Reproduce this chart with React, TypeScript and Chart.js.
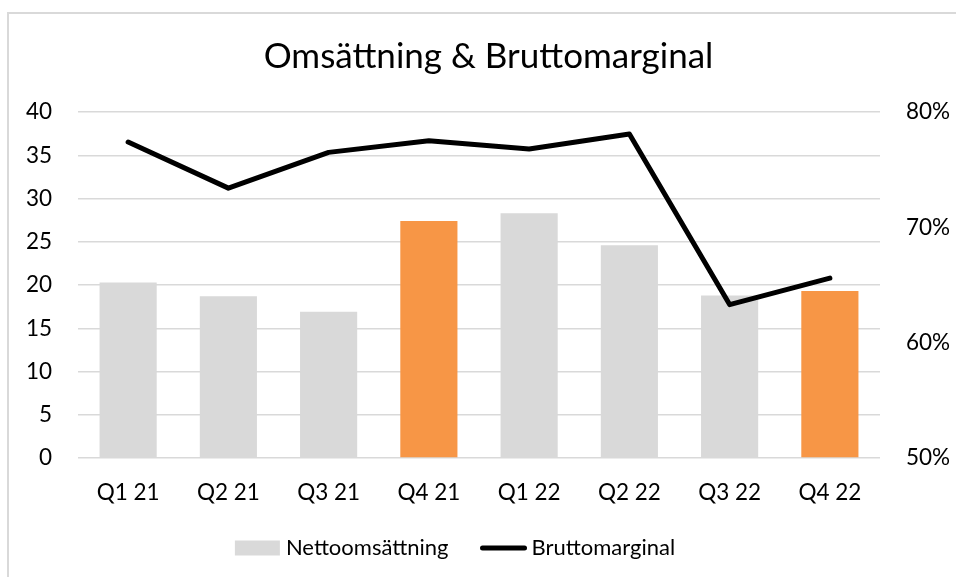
import React, { useEffect, useRef } from "react";
import { Chart, registerables } from "chart.js";

Chart.register(...registerables);

const TITLE = "Omsättning & Bruttomarginal";
const categories = ["Q1 21", "Q2 21", "Q3 21", "Q4 21", "Q1 22", "Q2 22", "Q3 22", "Q4 22"];
const revenue = [20.3, 18.7, 16.9, 27.4, 28.3, 24.6, 18.8, 19.3];
const grossMargin = [77.4, 73.4, 76.5, 77.5, 76.8, 78.1, 63.3, 65.6];
const barColors = ["#d9d9d9", "#d9d9d9", "#d9d9d9", "#f79646", "#d9d9d9", "#d9d9d9", "#d9d9d9", "#f79646"];
const revenueLabel = "Nettoomsättning";
const marginLabel = "Bruttomarginal";
const leftAxis = { min: 0, max: 40, step: 5 };
const rightAxis = { min: 50, max: 80, step: 10 };

const FONT = "Lato";
const TICK_SIZE = 22.5;
const LEGEND_SIZE = 22;
const TITLE_SIZE = 35;

const titleLegendPlugin = {
  id: "titleLegend",
  afterDraw(chart: any) {
    const ctx = chart.ctx;
    ctx.save();
    // title
    ctx.font = `${TITLE_SIZE}px ${FONT}`;
    ctx.textAlign = "center";
    ctx.textBaseline = "middle";
    ctx.fillStyle = "#000";
    ctx.fillText(TITLE, 488.5, 57);
    // legend
    ctx.textAlign = "left";
    ctx.font = `${LEGEND_SIZE}px ${FONT}`;
    const y = 548;
    const w1 = ctx.measureText(revenueLabel).width;
    const w2 = ctx.measureText(marginLabel).width;
    const total = 45 + 6 + w1 + 32 + 46 + 5 + w2;
    let x = 455 - total / 2;
    ctx.fillStyle = "#d9d9d9";
    ctx.fillRect(x, y - 7.5, 45, 15);
    x += 51;
    ctx.fillStyle = "#000";
    ctx.fillText(revenueLabel, x, y);
    x += w1 + 32;
    ctx.strokeStyle = "#000";
    ctx.lineWidth = 5;
    ctx.lineCap = "round";
    ctx.beginPath();
    ctx.moveTo(x + 2, y);
    ctx.lineTo(x + 44, y);
    ctx.stroke();
    x += 51;
    ctx.fillText(marginLabel, x, y);
    ctx.restore();
  },
};

export default function App() {
  const ref = useRef<HTMLCanvasElement>(null);
  useEffect(() => {
    if (!ref.current) return;
    const chart = new Chart(ref.current, {
      type: "bar",
      data: {
        labels: categories,
        datasets: [
          {
            type: "line",
            label: marginLabel,
            data: grossMargin,
            yAxisID: "y1",
            borderColor: "#000",
            backgroundColor: "#000",
            borderWidth: 5,
            pointRadius: 0,
            borderCapStyle: "round",
            borderJoinStyle: "round",
            tension: 0,
            order: 0,
          } as any,
          {
            type: "bar",
            label: revenueLabel,
            data: revenue,
            yAxisID: "y",
            backgroundColor: barColors,
            borderWidth: 0,
            barPercentage: 0.57,
            categoryPercentage: 1,
            order: 1,
          },
        ],
      },
      options: {
        responsive: false,
        animation: false,
        devicePixelRatio: 1,
        layout: { padding: { top: 112, bottom: 69, left: 0, right: 0 } },
        plugins: {
          legend: { display: false },
          tooltip: { enabled: false },
          title: { display: false },
        },
        scales: {
          x: {
            grid: { display: false, drawTicks: false },
            border: { display: false },
            ticks: { color: "#000", font: { family: FONT, size: TICK_SIZE }, padding: 21, maxRotation: 0 },
            afterFit(scale: any) {
              scale.height = 50;
            },
          },
          y: {
            position: "left",
            min: leftAxis.min,
            max: leftAxis.max,
            ticks: { stepSize: leftAxis.step, color: "#000", font: { family: FONT, size: TICK_SIZE }, padding: 26 },
            grid: { color: "#d9d9d9", lineWidth: 1.5, drawTicks: false },
            border: { display: false },
            afterFit(scale: any) {
              scale.width = 78;
            },
          },
          y1: {
            position: "right",
            min: rightAxis.min,
            max: rightAxis.max,
            ticks: {
              stepSize: rightAxis.step,
              color: "#000",
              font: { family: FONT, size: TICK_SIZE },
              padding: 26,
              callback: (v: any) => `${v}%`,
            },
            grid: { display: false, drawTicks: false },
            border: { display: false },
            afterFit(scale: any) {
              scale.width = 76;
            },
          },
        },
      },
      plugins: [titleLegendPlugin],
    });
    return () => chart.destroy();
  }, []);

  return (
    <div style={{ position: "fixed", left: 0, top: 0, width: 956, height: 577, overflow: "hidden", background: "#fff" }}>
      <div
        style={{
          position: "absolute",
          left: 7,
          top: 12,
          width: 1200,
          height: 800,
          borderTop: "2px solid #d9d9d9",
          borderLeft: "2px solid #d9d9d9",
        }}
      />
      <canvas ref={ref} width={956} height={577} style={{ position: "absolute", left: 0, top: 0 }} />
    </div>
  );
}
